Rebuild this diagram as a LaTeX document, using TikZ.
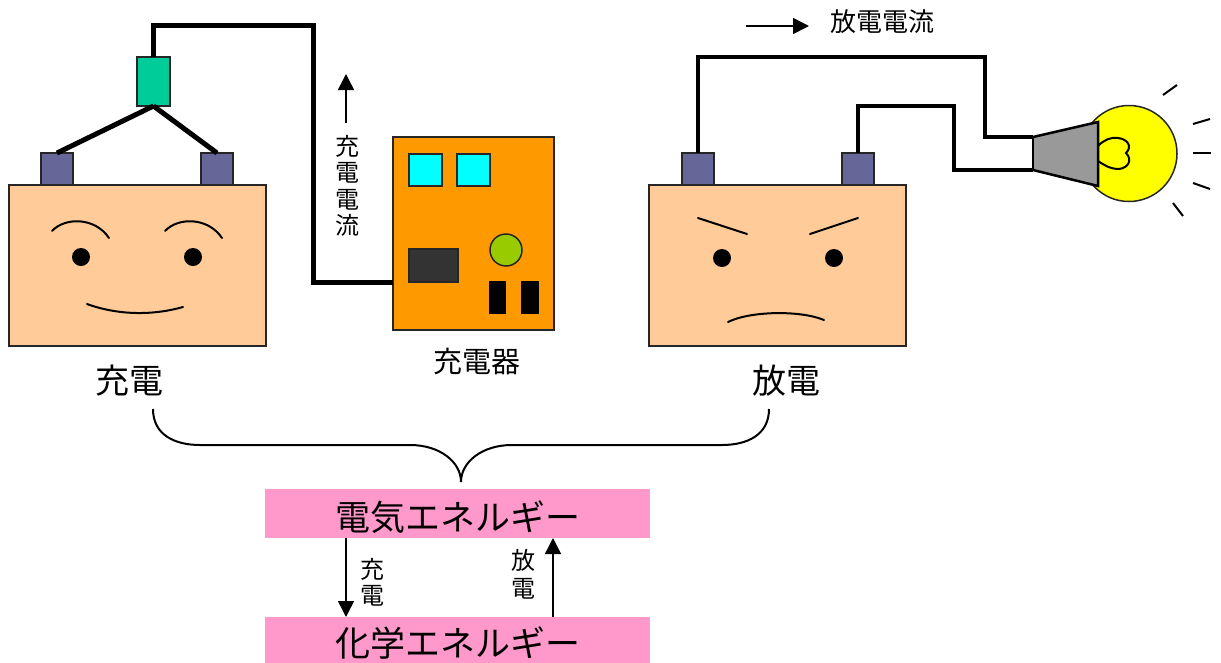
\documentclass[tikz,border=0pt]{standalone}
\usepackage{fontspec}
\setmainfont{Noto Sans CJK JP}
\usetikzlibrary{arrows.meta}

\definecolor{peach}{HTML}{FFCC99}
\definecolor{terminal}{HTML}{666699}
\definecolor{clipgreen}{HTML}{00CC99}
\definecolor{chargerorange}{HTML}{FF9900}
\definecolor{lampcyan}{HTML}{00FFFF}
\definecolor{panel}{HTML}{333333}
\definecolor{knob}{HTML}{99CC00}
\definecolor{energypink}{HTML}{FF99CC}
\definecolor{socketgray}{HTML}{999999}
\definecolor{bulbyellow}{HTML}{FFFF00}

\newcommand{\pxfont}[2]{\fontsize{#1}{#2}\selectfont}

\begin{document}
\begin{tikzpicture}[x=1pt,y=-1pt,
  part/.style={draw=black!85, line width=1.5pt, inner sep=0pt, outer sep=0pt},
  battery/.style={part, fill=peach, minimum width=257pt, minimum height=161pt},
  post/.style={part, fill=terminal, minimum width=32pt, minimum height=32pt},
  chgwire/.style={line width=5pt},
  dchwire/.style={line width=3.5pt},
  facestroke/.style={line width=2pt, line cap=round},
  eye/.style={fill=black, draw=none, circle, minimum size=18pt, inner sep=0pt},
  flow/.style={line width=1.5pt, -{Triangle[length=16pt,width=16pt]}},
  energybox/.style={fill=energypink, draw=none, minimum width=385pt, inner sep=0pt, outer sep=0pt},
  ray/.style={line width=2pt},
]
\clip (0,0) rectangle (1221,662);

% ---------- charging side ----------
\node[battery] (batL) at (137.5,265.5) {};
\node[post] (postLa) at (57,169) {};
\node[post] (postLb) at (217,169) {};
\node[part, fill=clipgreen, minimum width=33pt, minimum height=49pt] (clip) at (153.5,81.5) {};

\draw[chgwire] (clip.south) -- (postLa.north);
\draw[chgwire] (clip.south) -- (postLb.north);

% smiling face
\draw[facestroke] (52,231) .. controls (65,217) and (95,217) .. (109,238);
\draw[facestroke] (165,231) .. controls (178,217) and (208,217) .. (222,238);
\node[eye] (eyeLa) at (81,257) {};
\node[eye] (eyeLb) at (193,257) {};
\draw[facestroke] (87,304) .. controls (120,316) and (155,315) .. (183,307);

% charger
\node[part, fill=chargerorange, minimum width=161pt, minimum height=193pt] (charger) at (473.5,233.5) {};
\node[part, fill=lampcyan, minimum width=33pt, minimum height=32pt] (lampA) at (425.5,170) {};
\node[part, fill=lampcyan, minimum width=33pt, minimum height=32pt] (lampB) at (473.5,170) {};
\node[part, fill=panel, minimum width=49pt, minimum height=33pt] (display) at (433.5,265.5) {};
\node[part, fill=knob, circle, minimum size=32pt] (dial) at (506,250) {};
\node[fill=black, inner sep=0pt, minimum width=17pt, minimum height=33pt] (slotA) at (497.5,297.5) {};
\node[fill=black, inner sep=0pt, minimum width=18pt, minimum height=33pt] (slotB) at (530,297.5) {};

% charging lead
\coordinate (cA) at (313,25);
\coordinate (cB) at (313,282);
\draw[chgwire] (clip.north) |- (cA) -- (cB) -- (cB -| charger.west);

% charging current label
\coordinate (upS) at (346,123);
\coordinate (upE) at (346,74);
\draw[flow] (upS) -- (upE);
\node[align=center, font=\pxfont{24}{26.5}, inner sep=0pt] (chgcur) at (347,186) {充\\電\\電\\流};

\node[font=\pxfont{29}{32}] (chgname) at (477,362) {充電器};
\node[font=\pxfont{34}{38}] (lblcharge) at (129,381) {充電};

% ---------- discharging side ----------
\node[battery] (batR) at (777.5,265.5) {};
\node[post] (postRa) at (698,169) {};
\node[post] (postRb) at (858,169) {};

% frowning face
\draw[facestroke] (698,218) -- (747,234);
\draw[facestroke] (810,234) -- (858,218);
\node[eye] (eyeRa) at (722,258) {};
\node[eye] (eyeRb) at (834,258) {};
\draw[facestroke] (728,322) .. controls (750,311) and (800,310) .. (824,320);

% lamp
\node[part, fill=bulbyellow, circle, minimum size=96pt] (bulb) at (1129,153.5) {};
\coordinate (sockTL) at (1033,137);
\coordinate (sockBL) at (1033,170);
\coordinate (sockTR) at (1098,122);
\coordinate (sockBR) at (1098,186);
\fill[socketgray] (sockTL) -- (sockTR) -- (sockBR) -- (sockBL) -- cycle;
\draw[line width=2.5pt] (sockTL) -- (sockTR) -- (sockBR) -- (sockBL);
\draw[line width=2pt] (1098,146) .. controls (1104,140) and (1110,137) .. (1118,138)
  .. controls (1127,139) and (1133,146) .. (1126,153)
  .. controls (1133,160) and (1128,168) .. (1119,169)
  .. controls (1110,169) and (1104,165) .. (1098,161);
\draw[ray] (1163,95) -- (1177,85);
\draw[ray] (1193,124) -- (1210,119);
\draw[ray] (1193,153) -- (1211,153);
\draw[ray] (1193,183) -- (1210,189);
\draw[ray] (1173,203) -- (1183,216);

% discharge leads
\coordinate (dA) at (985,57);
\coordinate (dB) at (954,106);
\draw[dchwire] (postRa.north) |- (dA) |- (sockTL);
\draw[dchwire] (postRb.north) |- (dB) |- (sockBL);
\draw[line width=2.5pt] (sockTL) -- (sockBL);

% discharge current label
\coordinate (rtS) at (746,26);
\coordinate (rtE) at (809,26);
\draw[flow] (rtS) -- (rtE);
\node[font=\pxfont{26}{30}] (dchcur) at (882,22) {放電電流};

\node[font=\pxfont{34}{38}] (lbldischarge) at (786,381) {放電};

% ---------- brace and energy conversion ----------
\coordinate (brL) at (153,409);
\coordinate (brR) at (769,409);
\coordinate (brTip) at (461,482);
\draw[line width=2pt]
  (brL) .. controls (153,435) and (175,445) .. (200,445) -- (410,445)
  .. controls (440,445) and (461,462) .. (brTip)
  .. controls (461,462) and (482,445) .. (512,445) -- (722,445)
  .. controls (747,445) and (769,435) .. (brR);

\node[energybox, minimum height=49pt] (elec) at (457.5,513.5) {};
\node[font=\pxfont{35}{40}] (electext) at (458,517) {電気エネルギー};
\node[energybox, minimum height=60pt] (chem) at (457.5,647) {};
\node[font=\pxfont{35}{40}] (chemtext) at (458,643) {化学エネルギー};

\draw[flow] (elec.south -| 346,0) -- (chem.north -| 346,0);
\draw[flow] (chem.north -| 553,0) -- (elec.south -| 553,0);
\node[align=center, font=\pxfont{24}{26}, inner sep=0pt] (lblc) at (372,582) {充\\電};
\node[align=center, font=\pxfont{24}{28}, inner sep=0pt] (lbld) at (523,574) {放\\電};
\end{tikzpicture}
\end{document}
